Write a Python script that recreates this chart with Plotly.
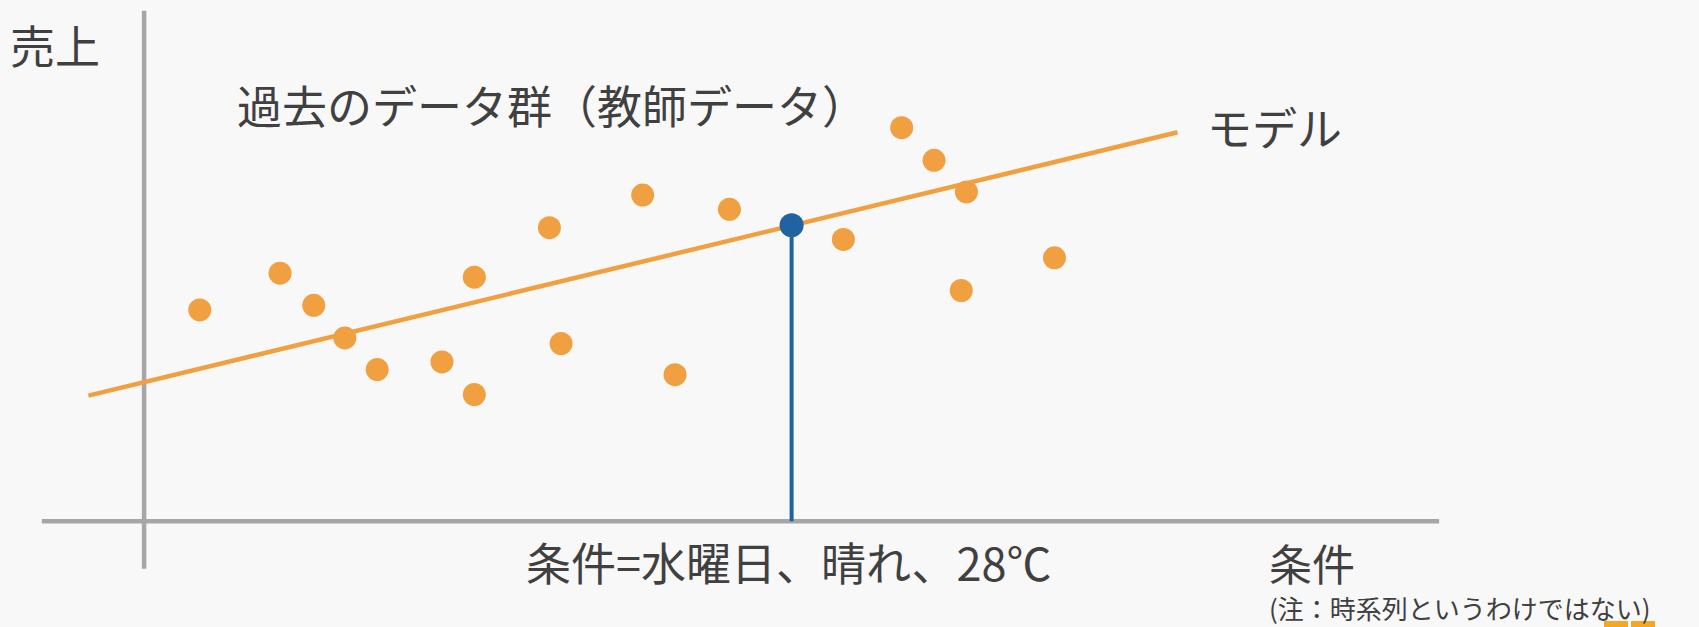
import plotly.graph_objects as go

# ---- data (arbitrary units: x = 条件, y = 売上; origin at axis crossing) ----
past_x = [4.3, 10.5, 13.1, 15.5, 18.0, 23.0, 25.5, 25.5, 31.3, 32.2,
          38.5, 41.0, 45.2, 54.0, 58.5, 61.0, 63.5, 63.1, 70.3]
past_y = [41.4, 48.6, 42.3, 35.9, 29.7, 31.2, 24.8, 47.8, 57.5, 34.8,
          63.9, 28.7, 61.1, 55.2, 77.1, 70.7, 64.5, 45.2, 51.6]

model_x = [-4.3, 79.8]
model_y = [24.6, 76.2]

pred_x = [50.0]
pred_y = [58.0]

xaxis_line_x = [-7.9, 100.0]
yaxis_line_y = [-9.3, 100.0]

labels = {
    "y": "売上",
    "data": "過去のデータ群（教師データ）",
    "model": "モデル",
    "cond": "条件=水曜日、晴れ、28℃",
    "x": "条件",
    "note": "(注：時系列というわけではない)",
}

W, H = 1699, 627
ORANGE = "#F0A040"
BLUE = "#2163A0"
GRAY = "#A6A6A6"
TXT = "#404040"
FONT = "Noto Sans CJK JP"

fig = go.Figure()

# axes
fig.add_trace(go.Scatter(x=xaxis_line_x, y=[0, 0], mode="lines",
                         line=dict(color=GRAY, width=4.5), hoverinfo="skip"))
fig.add_trace(go.Scatter(x=[0, 0], y=yaxis_line_y, mode="lines",
                         line=dict(color=GRAY, width=4.5), hoverinfo="skip"))

# model line
fig.add_trace(go.Scatter(x=model_x, y=model_y, mode="lines",
                         line=dict(color=ORANGE, width=4.5)))

# past data
fig.add_trace(go.Scatter(x=past_x, y=past_y, mode="markers",
                         marker=dict(color=ORANGE, size=23, line=dict(width=0))))

# prediction stem and point
fig.add_trace(go.Scatter(x=[pred_x[0], pred_x[0]], y=[0, pred_y[0]], mode="lines",
                         line=dict(color=BLUE, width=4)))
fig.add_trace(go.Scatter(x=pred_x, y=pred_y, mode="markers",
                         marker=dict(color=BLUE, size=24, line=dict(width=0))))


def ann(text, px, py, size):
    fig.add_annotation(text=text, xref="paper", yref="paper",
                       x=px / W, y=1 - py / H, xanchor="left", yanchor="middle",
                       showarrow=False, borderpad=0,
                       font=dict(family=FONT, size=size, color=TXT))


ann(labels["y"], 9, 44, 45)
ann(labels["data"], 236, 105, 45)
ann(labels["model"], 1206, 127, 45)
ann(labels["cond"], 525, 561, 45)
ann(labels["x"], 1268, 562, 43)
ann(labels["note"], 1268, 607, 26)

# faint cut-off logo in the bottom-right corner (decoration)
for x0, x1 in [(1604, 1628), (1631, 1655)]:
    fig.add_shape(type="rect", xref="paper", yref="paper", layer="below",
                  x0=x0 / W, x1=x1 / W, y0=0, y1=1 - 621 / H,
                  fillcolor="#F5A623", line=dict(width=0))

# x: px = 144 + 12.95*x  ; y: py = 521.2 - 5.104*y
fig.update_layout(
    width=W, height=H, margin=dict(l=0, r=0, t=0, b=0),
    paper_bgcolor="#F8F8F8", plot_bgcolor="rgba(0,0,0,0)",
    showlegend=False,
    xaxis=dict(range=[-144.1 / 12.95, (W - 144.1) / 12.95], visible=False, fixedrange=True),
    yaxis=dict(range=[(521.2 - H) / 5.104, 521.2 / 5.104], visible=False, fixedrange=True),
)

fig.write_html("out.html")
